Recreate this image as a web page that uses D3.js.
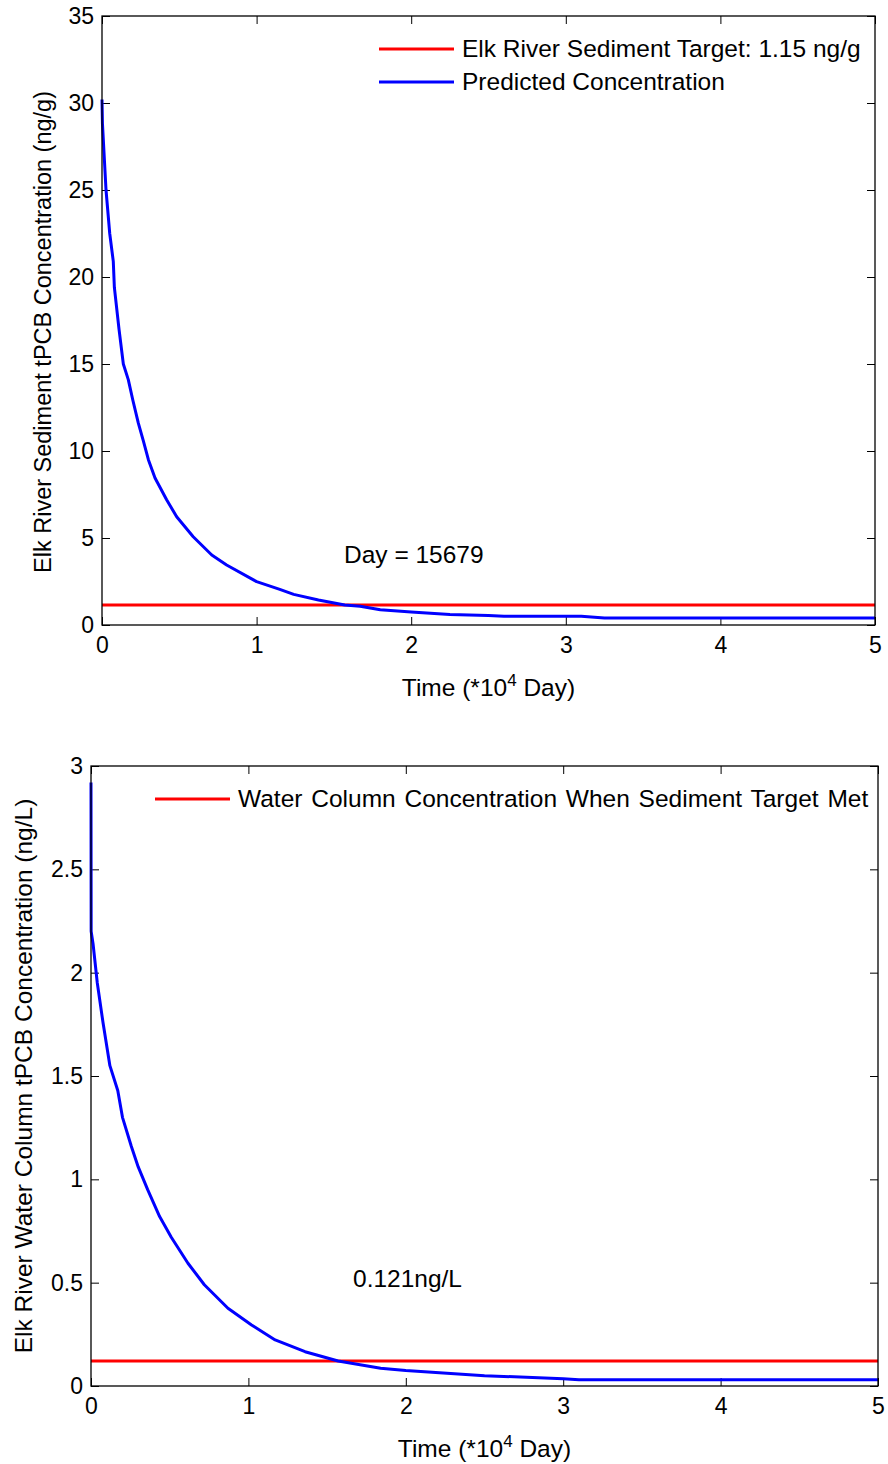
<!DOCTYPE html>
<html>
<head>
<meta charset="utf-8">
<script src="https://cdn.jsdelivr.net/npm/d3@7"></script>
<style>
  body { margin: 0; background: #fff; }
  text { font-family: "Liberation Sans", Arial, sans-serif; fill: #000; }
</style>
</head>
<body>
<svg width="888" height="1464"></svg>
<script>
// data, time in units of 10^4 days
let sedTime = [0, 0.003, 0.026, 0.05, 0.073, 0.08, 0.11, 0.138, 0.17, 0.2, 0.235, 0.267, 0.3, 0.343, 0.418, 0.483, 0.59, 0.71, 0.806, 1.0, 1.15, 1.24, 1.40, 1.57, 1.67, 1.8, 2.0, 2.25, 2.5, 2.6, 3.1, 3.25, 5];
let sedConc = [30.2, 28.8, 25, 22.5, 20.9, 19.4, 17, 15, 14.1, 12.9, 11.6, 10.6, 9.5, 8.45, 7.2, 6.22, 5.07, 4.02, 3.45, 2.49, 2.05, 1.76, 1.44, 1.15, 1.08, 0.88, 0.75, 0.6, 0.55, 0.5, 0.5, 0.4, 0.4];
let sedTarget = 1.15;

let wcTime = [0, 0.001, 0.003, 0.013, 0.04, 0.076, 0.12, 0.17, 0.2, 0.256, 0.3, 0.36, 0.436, 0.51, 0.616, 0.72, 0.87, 1.02, 1.17, 1.36, 1.57, 1.84, 2.0, 2.5, 3.0, 3.1, 5];
let wcConc = [2.92, 2.2, 2.19, 2.14, 1.95, 1.76, 1.55, 1.43, 1.30, 1.16, 1.06, 0.95, 0.82, 0.72, 0.594, 0.49, 0.376, 0.295, 0.223, 0.166, 0.121, 0.086, 0.075, 0.05, 0.035, 0.03, 0.03];
let wcTarget = 0.121;

let xTicks = [0, 1, 2, 3, 4, 5];
let sedTicks = [0, 5, 10, 15, 20, 25, 30, 35];
let wcTicks = [0, 0.5, 1, 1.5, 2, 2.5, 3];

let svg = d3.select("svg");
let fs = 23;    // tick labels
let fl = 24.5;  // legend, notes, axis titles

function panel(o) {
  let g = svg.append("g");
  let x = d3.scaleLinear().domain([0, 5]).range([o.left, o.right]);
  let y = d3.scaleLinear().domain(o.ydom).range([o.bottom, o.top]);

  // ticks pointing inward on all four sides
  let tk = 8;
  g.append("g").attr("transform", "translate(0," + o.bottom + ")")
    .call(d3.axisBottom(x).tickValues(xTicks).tickFormat(d3.format("d")).tickSizeInner(-tk).tickSizeOuter(0).tickPadding(12));
  g.append("g").attr("transform", "translate(0," + o.top + ")")
    .call(d3.axisTop(x).tickValues(xTicks).tickFormat("").tickSizeInner(-tk).tickSizeOuter(0));
  g.append("g").attr("transform", "translate(" + o.left + ",0)")
    .call(d3.axisLeft(y).tickValues(o.yticks).tickFormat(d => d).tickSizeInner(-tk).tickSizeOuter(0).tickPadding(8));
  g.append("g").attr("transform", "translate(" + o.right + ",0)")
    .call(d3.axisRight(y).tickValues(o.yticks).tickFormat("").tickSizeInner(-tk).tickSizeOuter(0));
  g.selectAll(".domain").remove();
  g.selectAll(".tick line").attr("stroke", "#000");
  g.selectAll(".tick text").attr("font-size", fs).attr("font-family", "Liberation Sans, Arial, sans-serif");

  // target line
  g.append("line")
    .attr("x1", x(0)).attr("x2", x(5))
    .attr("y1", y(o.target)).attr("y2", y(o.target))
    .attr("stroke", "#ff0000").attr("stroke-width", 3);

  // predicted curve
  let line = d3.line().x(d => x(d[0])).y(d => y(d[1]));
  g.append("path")
    .datum(d3.zip(o.series[0], o.series[1]))
    .attr("fill", "none").attr("stroke", "#0000ff").attr("stroke-width", 3)
    .attr("stroke-linejoin", "round")
    .attr("d", line);

  // box
  g.append("rect")
    .attr("x", o.left).attr("y", o.top)
    .attr("width", o.right - o.left).attr("height", o.bottom - o.top)
    .attr("fill", "none").attr("stroke", "#000").attr("stroke-width", 1.3);

  // legend
  o.legend.forEach((l, i) => {
    let ly = o.legY + i * 33;
    g.append("line").attr("x1", o.legX).attr("x2", o.legX + 75)
      .attr("y1", ly).attr("y2", ly).attr("stroke", l.color).attr("stroke-width", 3);
    g.append("text").attr("x", o.legX + 83).attr("y", ly + 8)
      .attr("font-size", fl).attr("word-spacing", o.wordSp || 0).text(l.name);
  });

  // annotation
  g.append("text").attr("x", o.noteX).attr("y", o.noteY).attr("font-size", fl).text(o.note);

  // x label with superscript
  let xl = g.append("text")
    .attr("x", (o.left + o.right) / 2).attr("y", o.bottom + 71)
    .attr("text-anchor", "middle").attr("font-size", fl);
  xl.append("tspan").text("Time (*10");
  xl.append("tspan").attr("font-size", 17).attr("dy", -10).text("4");
  xl.append("tspan").attr("dy", 10).text(" Day)");

  // y label
  g.append("text")
    .attr("transform", "translate(" + o.ylabX + "," + o.ylabY + ") rotate(-90)")
    .attr("text-anchor", "middle").attr("font-size", o.ylabFs)
    .text(o.ylabel);
}

panel({
  left: 102, right: 875, top: 16, bottom: 625,
  ydom: [0, 35], yticks: sedTicks, target: sedTarget,
  series: [sedTime, sedConc],
  legX: 379, legY: 49,
  legend: [{name: "Elk River Sediment Target: 1.15 ng/g", color: "#ff0000"},
           {name: "Predicted Concentration", color: "#0000ff"}],
  note: "Day = 15679", noteX: 344, noteY: 563,
  ylabel: "Elk River Sediment tPCB Concentration (ng/g)", ylabX: 51, ylabY: 332, ylabFs: 23.5
});

panel({
  left: 91, right: 878, top: 766, bottom: 1386,
  ydom: [0, 3], yticks: wcTicks, target: wcTarget,
  series: [wcTime, wcConc],
  legX: 155, legY: 799, wordSp: 2,
  legend: [{name: "Water Column Concentration When Sediment Target Met", color: "#ff0000"}],
  note: "0.121ng/L", noteX: 353, noteY: 1287,
  ylabel: "Elk River Water Column tPCB Concentration (ng/L)", ylabX: 32, ylabY: 1076, ylabFs: 24.5
});
</script>
</body>
</html>
